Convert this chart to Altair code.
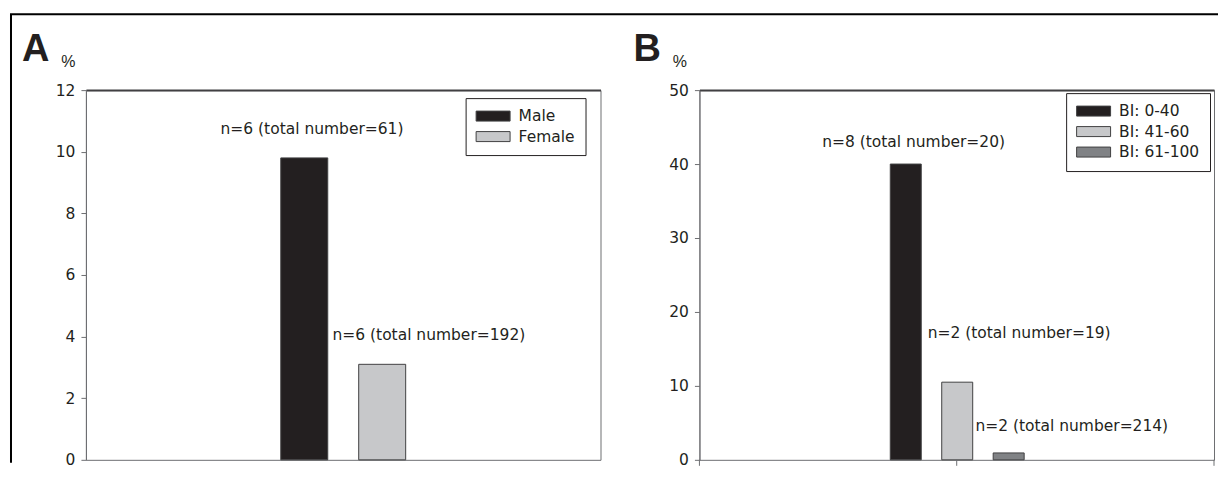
import altair as alt
import pandas as pd

# ---------------- data ----------------
sex_groups = ["Male", "Female"]
sex_pct = [9.8, 3.1]
sex_n = [6, 6]
sex_total = [61, 192]

bi_groups = ["BI: 0-40", "BI: 41-60", "BI: 61-100"]
bi_pct = [40.0, 10.5, 0.93]
bi_n = [8, 2, 2]
bi_total = [20, 19, 214]

a_yticks = [0, 2, 4, 6, 8, 10, 12]
b_yticks = [0, 10, 20, 30, 40, 50]
b_xticks = [0, 1, 2]

sex_colors = ["#231f20", "#c7c8ca"]
bi_colors = ["#231f20", "#c7c8ca", "#808285"]

# ---------------- style ----------------
FONT = "DejaVu Sans"
TEXT = "#231f20"
LINE = "#6d6e71"
DARK = "#414042"
W = 515
H = 370
FS = 15.5


def panel(groups, pct, ns, totals, colors, ymax, yticks, band_range, pad_inner,
          label_offsets, letter, letter_dx, pct_x, legend_xy, xticks=None, frame=False):
    df = pd.DataFrame({
        "group": groups,
        "pct": pct,
        "label": [f"n={n} (total number={t})" for n, t in zip(ns, totals)],
    })
    xscale = alt.Scale(domain=groups, range=band_range, paddingInner=pad_inner, paddingOuter=0)
    yscale = alt.Scale(domain=[0, ymax], nice=False, zero=True)
    yaxis = alt.Axis(
        values=yticks, format="d", grid=False,
        title="%", titleAngle=0, titleX=pct_x, titleY=-29, titleAlign="center",
        titleBaseline="middle", titleFont="Liberation Sans", titleFontSize=16,
        titleFontWeight="normal", titleColor=TEXT,
        labelFont=FONT, labelFontSize=FS, labelColor=TEXT, labelPadding=6,
        tickSize=5, tickColor=LINE, domainColor=LINE, domainWidth=1,
    )
    bars = alt.Chart(df).mark_bar(stroke=DARK, strokeWidth=1).encode(
        x=alt.X("group:N", scale=xscale, sort=groups,
                axis=alt.Axis(title=None, labels=False, ticks=False, domain=False, grid=False)),
        y=alt.Y("pct:Q", scale=yscale, axis=yaxis),
        color=alt.Color("group:N", sort=groups,
                        scale=alt.Scale(domain=groups, range=colors),
                        legend=alt.Legend(
                            title=None, orient="none",
                            legendX=legend_xy[0], legendY=legend_xy[1],
                            symbolType="M-2.267,-0.667H2.267V0.667H-2.267Z", symbolSize=225,
                            symbolOffset=9.5,
                            symbolStrokeColor=DARK, symbolStrokeWidth=1, symbolOpacity=1,
                            labelFont=FONT, labelFontSize=FS, labelColor=TEXT,
                            labelOffset=17.5, padding=10, rowPadding=3.5,
                            strokeColor=TEXT, fillColor="white")),
    )
    layers = [bars]
    for g, (ddx, ddy) in zip(groups, label_offsets):
        t = alt.Chart(df).mark_text(
            align="center", baseline="middle", dx=ddx, dy=ddy,
            font=FONT, fontSize=FS, color=TEXT,
        ).encode(
            x=alt.X("group:N", scale=xscale, sort=groups, axis=None),
            y=alt.Y("pct:Q", scale=yscale),
            text=alt.condition(f"datum.group == '{g}'", alt.Text("label:N"), alt.value("")),
        )
        layers.append(t)
    # bottom axis line (with optional ticks) on a linear helper scale
    tv = xticks if xticks is not None else [0, 2]
    tdf = pd.DataFrame({"pos": tv})
    base_axis = alt.Chart(tdf).mark_rule(
        color=LINE, strokeWidth=1, strokeOpacity=1 if xticks is not None else 0
    ).encode(
        x=alt.X("pos:Q", scale=alt.Scale(domain=[min(tv), max(tv)], nice=False, zero=False),
                axis=alt.Axis(title=None, labels=False, ticks=False, domain=True,
                              domainColor=DARK, domainWidth=2, grid=False)),
        y=alt.value(H), y2=alt.value(H + 6),
    )
    layers.append(base_axis)
    one = pd.DataFrame({"letter": [letter]})
    letter_mark = alt.Chart(one).mark_text(
        align="left", baseline="alphabetic", font="Liberation Sans", fontSize=38,
        fontWeight="bold", color=TEXT,
    ).encode(x=alt.value(letter_dx), y=alt.value(-29), text="letter:N")
    layers.append(letter_mark)
    if frame:
        top = alt.Chart(one).mark_rule(color="#000000", strokeWidth=2).encode(
            x=alt.value(-76), x2=alt.value(1133), y=alt.value(-76))
        left = alt.Chart(one).mark_rule(color="#000000", strokeWidth=2).encode(
            x=alt.value(-75), y=alt.value(-76), y2=alt.value(373))
        layers += [top, left]
    return alt.layer(*layers).resolve_scale(x="independent").properties(width=W, height=H)


a = panel(sex_groups, sex_pct, sex_n, sex_total, sex_colors, 12, a_yticks,
          [195, 320], 0.397, [(0, -29), (54.5, -29)], "A", -64, -18, (380, 8), frame=True)
b = panel(bi_groups, bi_pct, bi_n, bi_total, bi_colors, 50, b_yticks,
          [191, 325], 0.398, [(1, -22), (62, -49), (70, -27)], "B", -66, -20, (367, 3),
          xticks=b_xticks)

chart = alt.hconcat(a, b, spacing=99, bounds="flush").resolve_scale(
    color="independent"
).properties(
    padding={"left": 0, "top": 4, "right": 0, "bottom": 0}
).configure_view(stroke=LINE, strokeWidth=1)

chart.save("out.html", embed_options={"renderer": "svg", "actions": False})
